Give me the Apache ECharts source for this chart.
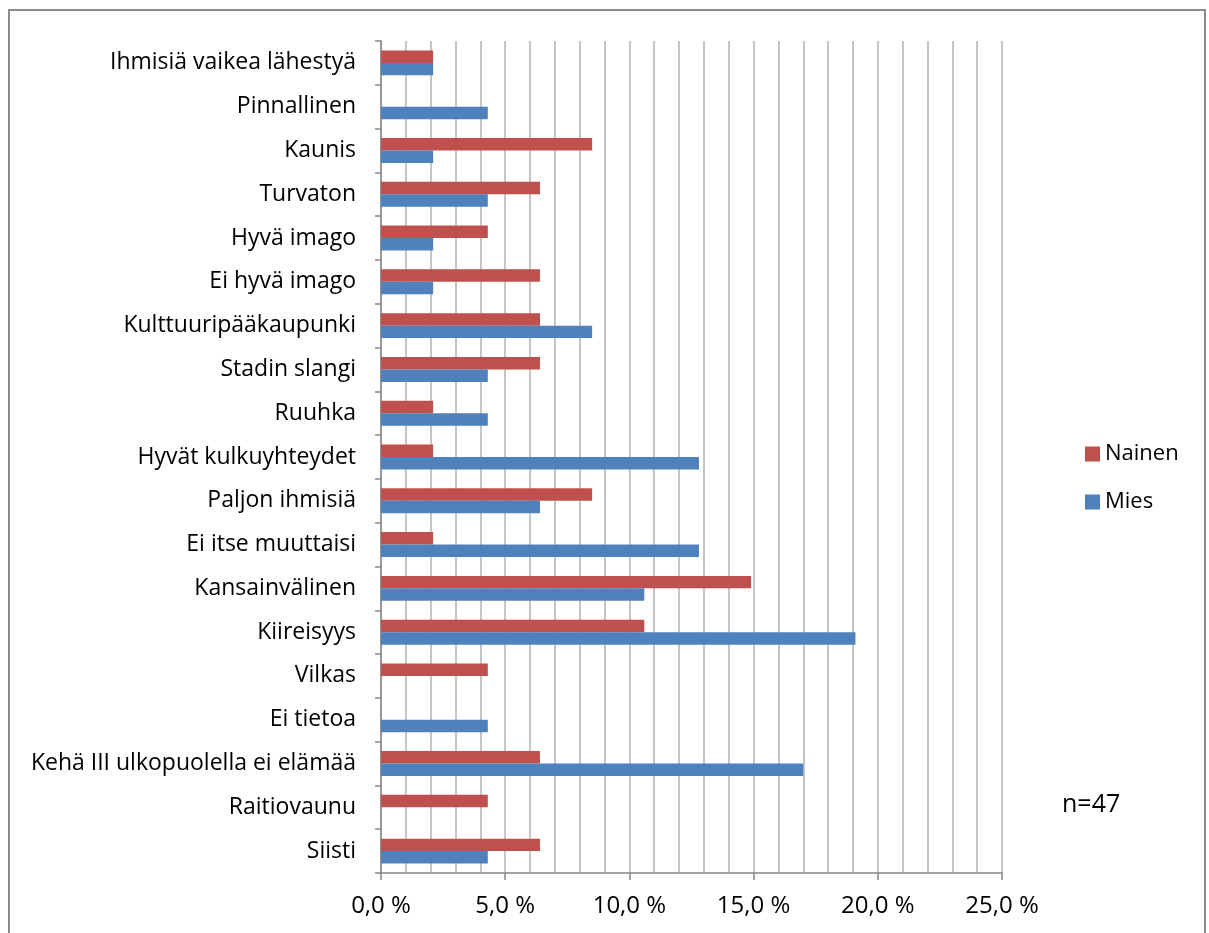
<!DOCTYPE html>
<html>
<head>
<meta charset="utf-8">
<script src="https://cdn.jsdelivr.net/npm/echarts@6/dist/echarts.min.js"></script>
<style>
  html, body { margin: 0; padding: 0; background: #fff; }
  #chart { width: 1209px; height: 933px; }
</style>
</head>
<body>
<div id="chart"></div>
<script>
// categories listed bottom -> top (category y axis grows upward)
var categories = [
  'Siisti', 'Raitiovaunu', 'Kehä III ulkopuolella ei elämää', 'Ei tietoa', 'Vilkas',
  'Kiireisyys', 'Kansainvälinen', 'Ei itse muuttaisi', 'Paljon ihmisiä',
  'Hyvät kulkuyhteydet', 'Ruuhka', 'Stadin slangi', 'Kulttuuripääkaupunki',
  'Ei hyvä imago', 'Hyvä imago', 'Turvaton', 'Kaunis', 'Pinnallinen',
  'Ihmisiä vaikea lähestyä'
];
var naisetValues = [6.4, 4.3, 6.4, 0, 4.3, 10.6, 14.9, 2.1, 8.5, 2.1, 2.1, 6.4, 6.4, 6.4, 4.3, 6.4, 8.5, 0, 2.1];
var miehetValues = [4.3, 0, 17.0, 4.3, 0, 19.1, 10.6, 12.8, 6.4, 12.8, 4.3, 4.3, 8.5, 2.1, 2.1, 4.3, 2.1, 4.3, 2.1];
var xTicks = [0, 5, 10, 15, 20, 25];

var font = 'Open Sans, Noto Sans, sans-serif';

var chart = echarts.init(document.getElementById('chart'));
chart.setOption({
  animation: false,
  textStyle: { fontFamily: font },
  graphic: [
    // outer chart frame
    {
      type: 'rect',
      shape: { x: 9, y: 10, width: 1196, height: 940 },
      style: { fill: 'none', stroke: '#8a8a8a', lineWidth: 2 }
    },
    {
      type: 'text',
      left: 1062,
      top: 792,
      style: { text: 'n=47', font: '25px ' + font, fill: '#000' }
    }
  ],
  legend: {
    data: ['Nainen', 'Mies'],
    orient: 'vertical',
    left: 1080,
    top: 438,
    itemWidth: 15,
    itemHeight: 15,
    itemGap: 26,
    icon: 'rect',
    textStyle: { fontSize: 22, color: '#000', fontFamily: font }
  },
  grid: {
    left: 381,
    top: 41,
    right: 207,
    bottom: 60,
    containLabel: false
  },
  xAxis: {
    type: 'value',
    min: xTicks[0],
    max: xTicks[xTicks.length - 1],
    interval: 5,
    axisLine: { show: true, lineStyle: { color: '#868686', width: 1.5 } },
    axisTick: { show: true, length: 7, lineStyle: { color: '#868686', width: 1.5 } },
    axisLabel: {
      fontSize: 24,
      color: '#000',
      margin: 21,
      formatter: function (v) { return v.toFixed(1).replace('.', ',') + ' %'; }
    },
    splitLine: { show: true, lineStyle: { color: '#b3b3b3', width: 1.5 } },
    minorTick: { show: false, splitNumber: 5 },
    minorSplitLine: { show: true, lineStyle: { color: '#b3b3b3', width: 1.5 } }
  },
  yAxis: {
    type: 'category',
    data: categories,
    axisLine: { show: true, lineStyle: { color: '#868686', width: 1.5 } },
    axisTick: { show: true, length: 6, lineStyle: { color: '#868686', width: 1.5 } },
    axisLabel: { fontSize: 23, color: '#000', margin: 25 },
    splitLine: { show: false }
  },
  series: [
    {
      name: 'Nainen',
      type: 'bar',
      data: naisetValues,
      barGap: '0%',
      barCategoryGap: '43%',
      itemStyle: { color: '#C0504D' }
    },
    {
      name: 'Mies',
      type: 'bar',
      data: miehetValues,
      barGap: '0%',
      barCategoryGap: '43%',
      itemStyle: { color: '#4F81BD' }
    }
  ]
});
</script>
</body>
</html>
